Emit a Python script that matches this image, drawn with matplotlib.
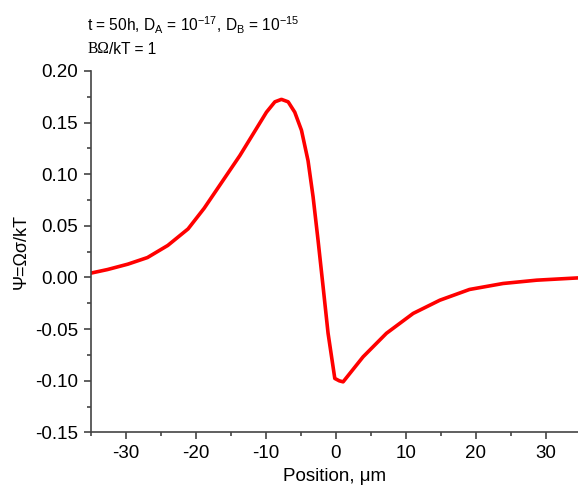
import matplotlib
matplotlib.use('Agg')
from matplotlib import pyplot as plt
from matplotlib.ticker import MultipleLocator

# curve (position in um, psi)
position = [-35.0, -32.6, -29.7, -26.9, -24.0, -21.1, -18.8, -16.4, -13.7, -11.8,
            -9.9, -8.7, -7.76, -6.8, -5.86, -4.9, -3.96, -3.24, -2.53, -1.81,
            -1.1, -0.14, 0.5, 1.05, 3.9, 7.24, 11.05, 14.86, 19.1, 23.9,
            28.7, 34.6]
psi = [0.0042, 0.0077, 0.0129, 0.0193, 0.031, 0.047, 0.067, 0.091, 0.118, 0.139,
       0.160, 0.170, 0.1724, 0.170, 0.160, 0.1425, 0.113, 0.078, 0.036, -0.009,
       -0.054, -0.0977, -0.100, -0.101, -0.0768, -0.054, -0.0348, -0.022, -0.0116, -0.0058,
       -0.0026, -0.0004]

xticks = [-30, -20, -10, 0, 10, 20, 30]
yticks = [-0.15, -0.10, -0.05, 0.00, 0.05, 0.10, 0.15, 0.20]

plt.rcParams['font.family'] = ['Liberation Sans', 'DejaVu Sans']
plt.rcParams['mathtext.fontset'] = 'custom'
plt.rcParams['mathtext.rm'] = 'Liberation Sans'
plt.rcParams['axes.unicode_minus'] = False

fig = plt.figure(figsize=(5.78, 4.92), dpi=100)
ax = fig.add_axes([0.157, 0.121, 0.843, 0.735])

ax.plot(position, psi, color='#ff0000', linewidth=2.6, solid_joinstyle='round')

ax.set_xlim(-35, 34.6)
ax.set_ylim(-0.15, 0.20)
ax.set_xticks(xticks)
ax.set_yticks(yticks)
ax.set_yticklabels(['%.2f' % v for v in yticks])
ax.xaxis.set_minor_locator(MultipleLocator(5))
ax.yaxis.set_minor_locator(MultipleLocator(0.025))

for s in ['top', 'right']:
    ax.spines[s].set_visible(False)
for s in ['left', 'bottom']:
    ax.spines[s].set_color('#444444')
    ax.spines[s].set_linewidth(1.2)

ax.tick_params(which='major', direction='out', length=5, width=1.2, color='#444444',
               labelsize=13.5, pad=4)
ax.tick_params(which='minor', direction='out', length=3, width=1.2, color='#444444')

ax.set_xlabel('Position, \u03bcm', fontsize=13.5, labelpad=4)
ax.set_ylabel('\u03a8=\u03a9\u03c3/kT', fontsize=13, labelpad=4)

fig.text(0.151, 0.937, r't = 50h, D$_\mathregular{A}$ = 10$^\mathregular{-17}$, D$_\mathregular{B}$ = 10$^\mathregular{-15}$',
         fontsize=11.2, va='baseline')
t1 = fig.text(0.151, 0.892, 'B\u03a9', fontsize=11.2, va='baseline', family=['Liberation Serif', 'DejaVu Serif'])
ax.annotate('/kT = 1', xy=(1, 0), xycoords=t1, fontsize=11.2, va='bottom')

fig.savefig('out.png', dpi=100)
